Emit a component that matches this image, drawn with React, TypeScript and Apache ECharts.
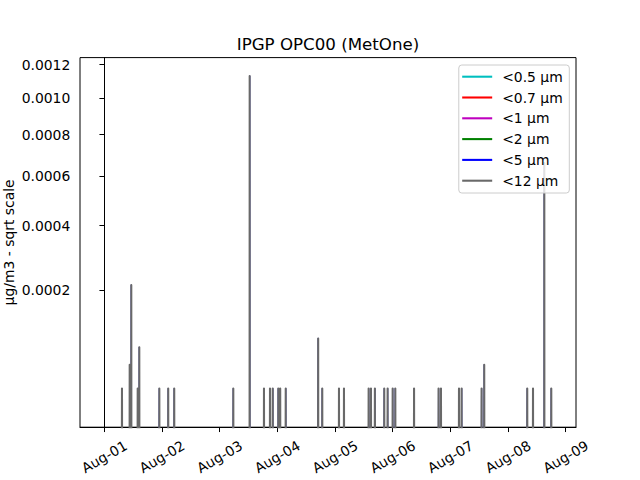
import React, { useEffect, useRef } from 'react';
import * as echarts from 'echarts';

// ---- data (hours since Aug-01 00:00, values in µg/m3) ----
const seriesNames = ['<0.5 µm', '<0.7 µm', '<1 µm', '<2 µm', '<5 µm', '<12 µm'];
const seriesColors = ['#00bfbf', '#ff0000', '#bf00bf', '#008000', '#0000ff', '#696969'];

const dayTickHours = [0, 24, 48, 72, 96, 120, 144, 168, 192];
const dayTickLabels = ['Aug-01', 'Aug-02', 'Aug-03', 'Aug-04', 'Aug-05', 'Aug-06', 'Aug-07', 'Aug-08', 'Aug-09'];

const yTickValues = [0.0002, 0.0004, 0.0006, 0.0008, 0.001, 0.0012];
const yTickLabels = ['0.0002', '0.0004', '0.0006', '0.0008', '0.0010', '0.0012'];

const recordStartHour = -0.7;
const recordEndHour = 186.9;

const spikeHours = [
  7.36, 10.57, 11.23, 13.9, 14.56, 22.9, 26.6, 29.1,
  53.68, 60.5, 66.45, 68.95, 70.1, 72.4, 73.2, 75.5, 89.0, 90.7,
  97.66, 99.74, 110.0, 110.97, 112.6, 116.5, 117.9, 120.0, 121.1, 128.9,
  139.1, 140.1, 147.6, 148.7, 157.0, 158.1,
  176.0, 178.4, 183.1, 186.0,
];
const spikeValues = [
  2.7e-5, 5.4e-5, 2.13e-4, 2.7e-5, 8.0e-5, 2.7e-5, 2.7e-5, 2.7e-5,
  2.7e-5, 1.129e-3, 2.7e-5, 2.7e-5, 2.7e-5, 2.7e-5, 2.7e-5, 2.7e-5, 9.5e-5, 2.7e-5,
  2.7e-5, 2.7e-5, 2.7e-5, 2.7e-5, 2.7e-5, 2.7e-5, 2.7e-5, 2.7e-5, 2.7e-5, 2.7e-5,
  2.7e-5, 2.7e-5, 2.7e-5, 2.7e-5, 2.7e-5, 5.4e-5,
  2.7e-5, 2.7e-5, 6.6e-4, 2.7e-5,
];

// fine fractions stay at zero (below the visible range)
const fineHours = [recordStartHour, recordEndHour];
const fineValues = [0, 0];

// ---- axis configuration (sqrt scale) ----
const X_MIN = -10.11;
const X_MAX = 196.29;
const Y_SQRT_MIN = 0.00168;
const Y_SQRT_MAX = 0.03528;
const FONT = 'DejaVu Sans';

function spikeLine(hours: number[], values: number[]) {
  const pts: number[][] = [[recordStartHour, 0]];
  hours.forEach((h, i) => {
    pts.push([h - 0.04, 0], [h, Math.sqrt(values[i])], [h + 0.04, 0]);
  });
  pts.push([recordEndHour, 0]);
  return pts;
}

function plainLine(hours: number[], values: number[]) {
  return hours.map((h, i) => [h, Math.sqrt(values[i])]);
}

export default function App() {
  const ref = useRef<HTMLDivElement>(null);

  useEffect(() => {
    if (!ref.current) return;
    const chart = echarts.init(ref.current, null, { renderer: 'svg' });

    const dataBySeries = [
      plainLine(fineHours, fineValues),
      plainLine(fineHours, fineValues),
      plainLine(fineHours, fineValues),
      plainLine(fineHours, fineValues),
      spikeLine(spikeHours, spikeValues),
      spikeLine(spikeHours, spikeValues),
    ];
    const lineWidths = [2.08, 2.08, 2.08, 2.08, 1.2, 2.08];

    const sqrtTicks = yTickValues.map((v) => Math.sqrt(v));

    chart.setOption({
      animation: false,
      backgroundColor: '#ffffff',
      textStyle: { fontFamily: FONT },
      grid: {
        left: 80,
        right: 64,
        top: 57.6,
        bottom: 52.8,
        containLabel: false,
        outerBoundsMode: 'none',
        show: true,
        borderColor: '#000000',
        borderWidth: 1,
        backgroundColor: 'transparent',
      },
      graphic: [
        {
          type: 'text',
          x: 328,
          y: 44,
          style: {
            text: 'IPGP OPC00 (MetOne)',
            fontFamily: FONT,
            fontSize: 16.67,
            fill: '#000000',
            align: 'center',
            verticalAlign: 'middle',
          },
        },
      ],
      legend: {
        data: seriesNames,
        orient: 'vertical',
        right: 70.7,
        top: 65,
        icon: 'rect',
        itemWidth: 30,
        itemHeight: 2.08,
        itemGap: 6.8,
        padding: [4.7, 6.6, 5.3, 3.4],
        backgroundColor: 'rgba(255,255,255,0.8)',
        borderColor: '#cccccc',
        borderWidth: 1,
        borderRadius: 3,
        selectedMode: false,
        textStyle: {
          fontFamily: FONT,
          fontSize: 13.9,
          lineHeight: 14,
          color: '#000000',
          padding: [0, 0, 0, 5],
        },
      },
      xAxis: {
        type: 'value',
        min: X_MIN,
        max: X_MAX,
        splitLine: { show: false },
        axisLine: { lineStyle: { color: '#000000', width: 1 } },
        axisTick: { show: true, length: 4.86, lineStyle: { color: '#000000', width: 1 }, customValues: dayTickHours },
        axisLabel: {
          customValues: dayTickHours,
          formatter: (v: number) => dayTickLabels[Math.round(v / 24)] ?? '',
          rotate: 30,
          align: 'center',
          verticalAlign: 'middle',
          margin: 29.5,
          fontFamily: FONT,
          fontSize: 13.9,
          color: '#000000',
        },
      },
      yAxis: {
        type: 'value',
        min: Y_SQRT_MIN,
        max: Y_SQRT_MAX,
        name: 'µg/m3 - sqrt scale',
        nameLocation: 'middle',
        nameGap: 64,
        nameRotate: 90,
        nameMoveOverlap: false,
        nameTextStyle: { fontFamily: FONT, fontSize: 13.9, color: '#000000' },
        splitLine: { show: false },
        axisLine: { show: true, lineStyle: { color: '#000000', width: 1 } },
        axisTick: { show: true, length: 4.86, lineStyle: { color: '#000000', width: 1 }, customValues: sqrtTicks },
        axisLabel: {
          customValues: sqrtTicks,
          formatter: (v: number) => {
            let best = 0;
            sqrtTicks.forEach((t, i) => {
              if (Math.abs(t - v) < Math.abs(sqrtTicks[best] - v)) best = i;
            });
            return yTickLabels[best];
          },
          margin: 9.7,
          fontFamily: FONT,
          fontSize: 13.9,
          color: '#000000',
        },
      },
      series: seriesNames.map((name, i) => ({
        name,
        type: 'line',
        data: dataBySeries[i],
        showSymbol: false,
        symbol: 'none',
        clip: true,
        silent: true,
        color: seriesColors[i],
        itemStyle: { color: seriesColors[i] },
        lineStyle: { color: seriesColors[i], width: lineWidths[i], cap: 'round', join: 'round' },
      })),
    });

    return () => chart.dispose();
  }, []);

  return (
    <div
      ref={ref}
      style={{ position: 'absolute', left: 0, top: 0, width: 640, height: 480 }}
    />
  );
}
